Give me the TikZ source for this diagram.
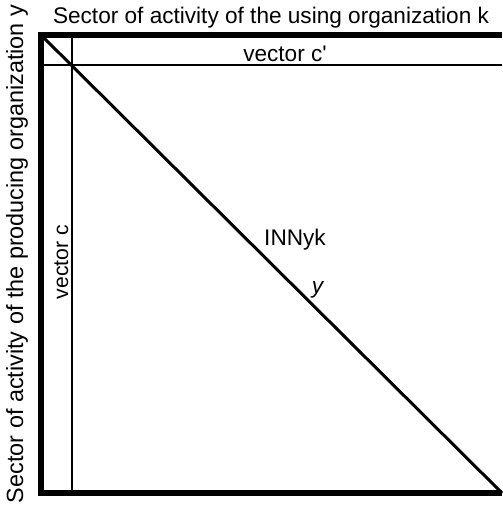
\documentclass[tikz,border=0pt]{standalone}
\usepackage{fontspec}
\setmainfont{Liberation Sans}
\usetikzlibrary{calc}

\tikzset{
	frame/.style={line width=2.6pt},
	thin/.style={line width=0.9pt},
	diag/.style={line width=1.5pt},
	lab/.style={inner sep=0pt, anchor=base, font=\fontsize{11.3}{13}\selectfont}
}

\begin{document}
\begin{tikzpicture}[x=0.5pt,y=-0.5pt]
	\useasboundingbox (0,0) rectangle (502,507);

	\coordinate (tl) at (41,35);
	\coordinate (tr) at (502,35);
	\coordinate (bl) at (41,493);
	\coordinate (br) at (502,493);
	\coordinate (hl) at (41,65);
	\coordinate (hr) at (502,65);
	\coordinate (vt) at (72,35);
	\coordinate (vb) at (72,493);

	% frame, open on the right
	\draw[frame] (tr) -- (tl) -- (bl) -- (br);
	\draw[thin] (hl) -- (hr);
	\draw[thin] (vt) -- (vb);
	\draw[diag] (tl) -- (br);

	\node[lab] (using) at (271,24) {Sector of activity of the using organization k};
	\node[lab, rotate=90, font=\fontsize{11.7}{13}\selectfont] (producing) at (23,254) {Sector of activity of the producing organization y};
	\node[lab] (cprime) at (285,62) {vector c\textquotesingle};
	\node[lab, rotate=90, font=\fontsize{10.6}{12}\selectfont] (cvec) at (68,262) {vector c};
	\node[lab] (inn) at (295,246) {INNyk};
	\node[lab] (yy) at (318,293) {\textit{y}};
\end{tikzpicture}
\end{document}
